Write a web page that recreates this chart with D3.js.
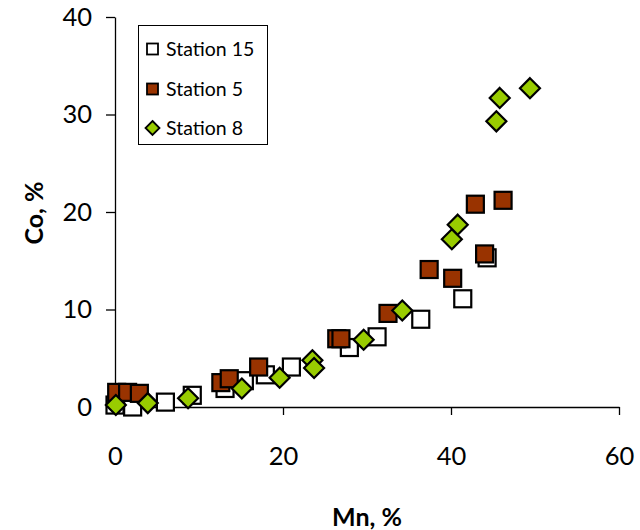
<!DOCTYPE html>
<html><head><meta charset="utf-8">
<script src="https://cdn.jsdelivr.net/npm/d3@7"></script>
<style>body{margin:0;background:#fff}svg{display:block;font-family:Lato,"Open Sans",sans-serif}</style>
</head><body><svg id="c" width="640" height="530"></svg>
<script>
// Data (Mn %, Co %)
const station15 = [[0,0.2],[2.1,0.0],[6.0,0.5],[9.2,1.2],[13.1,1.9],[15.4,2.7],[17.9,3.3],[21.0,4.1],[27.9,6.1],[31.2,7.2],[36.4,9.0],[41.4,11.1],[44.3,15.3]];
const station5 = [[0.2,1.5],[1.5,1.5],[2.9,1.4],[12.6,2.5],[13.6,2.9],[17.1,4.1],[26.4,7.0],[26.9,7.0],[32.5,9.6],[37.4,14.1],[40.2,13.2],[44.0,15.7],[42.9,20.8],[46.2,21.2]];
const station8 = [[0.1,0.2],[3.9,0.4],[8.7,0.9],[15.1,1.9],[19.6,3.0],[23.5,4.8],[23.7,4.0],[29.6,6.9],[34.2,9.9],[40.1,17.2],[40.8,18.7],[45.4,29.3],[45.8,31.7],[49.4,32.7]];
const xTicks = [0,20,40,60];
const yTicks = [0,10,20,30,40];
const seriesNames = ["Station 15","Station 5","Station 8"];

const svg = d3.select("#c");
const x = d3.scaleLinear().domain([0,60]).range([115,619]);
const y = d3.scaleLinear().domain([0,40]).range([407,17]);

const xAxis = svg.append("g").attr("transform","translate(0,407)")
  .call(d3.axisBottom(x).tickValues(xTicks).tickSize(8).tickPadding(32).tickSizeOuter(0));
const yAxis = svg.append("g").attr("transform","translate(115,0)")
  .call(d3.axisLeft(y).tickValues(yTicks).tickSize(9).tickPadding(14).tickSizeOuter(0));
[xAxis,yAxis].forEach(g=>{
  g.select(".domain").attr("stroke","#000").attr("stroke-width",1.3);
  g.selectAll(".tick line").attr("stroke","#000").attr("stroke-width",1.3);
  g.selectAll(".tick text").attr("font-family","Lato, sans-serif").attr("font-size",25.5).attr("fill","#000");
});
xAxis.selectAll(".tick text").attr("dy","0.71em");

svg.append("text").attr("x",367).attr("y",526).attr("text-anchor","middle")
  .attr("font-size",25).attr("font-weight","bold").attr("fill","#000").text("Mn, %");
svg.append("text").attr("transform","translate(43,213) rotate(-90)").attr("text-anchor","middle")
  .attr("font-size",25).attr("font-weight","bold").attr("fill","#000").text("Co, %");

const sq = 17;
svg.append("g").selectAll("rect").data(station15).join("rect")
  .attr("x",d=>x(d[0])-sq/2).attr("y",d=>y(d[1])-sq/2).attr("width",sq).attr("height",sq)
  .attr("fill","#fff").attr("stroke","#000").attr("stroke-width",2.2);
svg.append("g").selectAll("rect").data(station5).join("rect")
  .attr("x",d=>x(d[0])-sq/2).attr("y",d=>y(d[1])-sq/2).attr("width",sq).attr("height",sq)
  .attr("fill","#993300").attr("stroke","#000").attr("stroke-width",2.2);
const dm = 10;
svg.append("g").selectAll("path").data(station8).join("path")
  .attr("d",d=>{const cx=x(d[0]),cy=y(d[1]);return `M${cx},${cy-dm}L${cx+dm},${cy}L${cx},${cy+dm}L${cx-dm},${cy}Z`;})
  .attr("fill","#99cc00").attr("stroke","#000").attr("stroke-width",2.2);

// Legend
const lg = svg.append("g");
lg.append("rect").attr("x",138.5).attr("y",25.5).attr("width",129).attr("height",119)
  .attr("fill","#fff").attr("stroke","#000").attr("stroke-width",1);
const rows = [49,89,128];
seriesNames.forEach((n,i)=>{
  const cy = rows[i], cx = 152.5;
  if(i<2){
    lg.append("rect").attr("x",cx-5.5).attr("y",cy-5.5).attr("width",11).attr("height",11)
      .attr("fill",i==0?"#fff":"#993300").attr("stroke","#000").attr("stroke-width",1.8);
  } else {
    lg.append("path").attr("d",`M${cx},${cy-7}L${cx+7},${cy}L${cx},${cy+7}L${cx-7},${cy}Z`)
      .attr("fill","#99cc00").attr("stroke","#000").attr("stroke-width",1.8);
  }
  lg.append("text").attr("x",166).attr("y",cy).attr("dy","0.35em").attr("font-size",19.5)
    .attr("fill","#000").text(n);
});
</script></body></html>
